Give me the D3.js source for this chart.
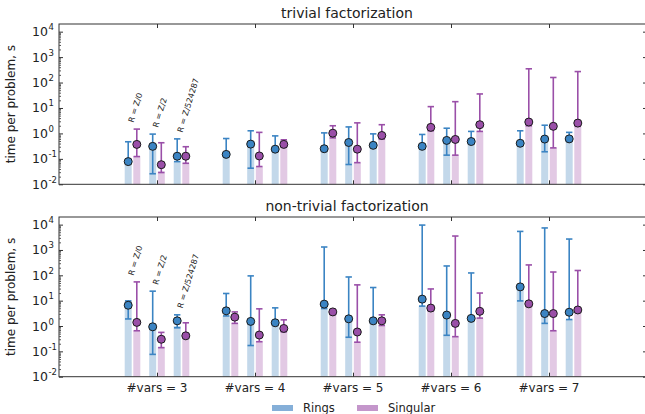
<!DOCTYPE html>
<html>
<head>
<meta charset="utf-8">
<script src="https://cdn.jsdelivr.net/npm/d3@7"></script>
<style>
  body { margin: 0; background: #fff; }
  text { font-family: "DejaVu Sans", sans-serif; fill: #222; }
</style>
</head>
<body>
<div id="chart"></div>
<script>
// categories
const groups = ["#vars = 3", "#vars = 4", "#vars = 5", "#vars = 6", "#vars = 7"];
const rings = ["R = Z/0", "R = Z/2", "R = Z/524287"];
const series = ["Rings", "Singular"];
const yTicks = [1e-2, 1e-1, 1e0, 1e1, 1e2, 1e3, 1e4];

// values per #vars, per ring: [bar, median, low, high]
const trivialRings = [
    [[0.085, 0.078, 0.07, 0.47], [0.32, 0.31, 0.026, 0.94], [0.08, 0.127, 0.078, 0.61]],
    [[0.15, 0.15, 0.14, 0.63], [0.4, 0.38, 0.043, 1.27], [0.28, 0.24, 0.23, 0.8]],
    [[0.25, 0.25, 0.24, 1.05], [0.45, 0.44, 0.06, 1.8], [0.36, 0.34, 0.33, 0.96]],
    [[0.33, 0.31, 0.3, 0.91], [0.55, 0.53, 0.14, 1.6], [0.5, 0.48, 0.47, 1.2]],
    [[0.42, 0.41, 0.4, 1.27], [0.6, 0.6, 0.19, 2.1], [0.62, 0.61, 0.6, 1.1]]
];
const trivialSingular = [
    [[0.13, 0.37, 0.123, 1.48], [0.032, 0.059, 0.029, 0.43], [0.07, 0.127, 0.067, 0.3]],
    [null, [0.05, 0.13, 0.05, 1.1], [0.55, 0.37, 0.3, 0.56]],
    [[0.67, 1.02, 0.67, 2.0], [0.07, 0.24, 0.071, 2.6], [0.6, 0.83, 0.6, 2.2]],
    [[1.3, 1.73, 1.27, 11.3], [0.14, 0.58, 0.14, 17.7], [1.2, 2.2, 1.2, 35.6]],
    [[2.0, 2.8, 2.0, 347], [0.27, 1.9, 0.27, 158], [1.9, 2.55, 1.9, 270]]
];
const nontrivialRings = [
    [[10, 6.6, 1.9, 9.8], [0.9, 0.93, 0.076, 23.7], [1.0, 1.6, 0.85, 2.76]],
    [[2.5, 3.97, 2.5, 19.2], [1.4, 1.52, 0.17, 95], [1.35, 1.34, 1.3, 5.2]],
    [[4.9, 7.3, 4.9, 1310], [1.7, 1.92, 0.36, 86], [1.6, 1.6, 1.55, 33]],
    [[6, 11.5, 6.1, 9600], [2.5, 2.7, 0.43, 234], [1.46, 2.0, 1.95, 124]],
    [[28, 35, 9.8, 5400], [3, 3.1, 1.27, 7400], [1.8, 3.5, 1.8, 2700]]
];
const nontrivialSingular = [
    [[0.65, 1.39, 0.65, 55], [0.15, 0.3, 0.14, 0.56], [0.4, 0.41, 0.4, 1.34]],
    [[1.3, 2.24, 1.27, 3.6], [0.25, 0.44, 0.24, 4.76], [0.6, 0.8, 0.59, 1.75]],
    [[3, 3.6, 2.9, 4.5], [0.23, 0.58, 0.23, 42], [1.05, 1.6, 1.05, 2.76]],
    [[4, 5.1, 4.0, 29], [0.38, 1.27, 0.38, 3550], [2, 3.8, 2.05, 20]],
    [[7, 7.5, 7, 257], [0.65, 3.1, 0.65, 135], [4.3, 4.3, 4.2, 155]]
];

const width = 645;
const height = 414;

const dark = { Rings: "#3b84c3", Singular: "#9a4fa8" };
const light = { Rings: "#c3d8ea", Singular: "#e2c9e4" };
const patch = { Rings: "#85afd8", Singular: "#c496cb" };

const svg = d3.select("#chart")
    .append("svg")
    .attr("width", width)
    .attr("height", height);

const x = d3.scaleLinear().domain([0, 6]).range([59, 647]);
const rBand = d3.scaleBand().domain(rings).range([-36.75, 36.75]);
const sBand = d3.scaleBand().domain(series).range([-8.6, 8.6]);
const barW = 7;

const panels = [
    { title: "trivial factorization", top: 24, bottom: 184.3,
      data: { Rings: trivialRings, Singular: trivialSingular }, xlabels: false },
    { title: "non-trivial factorization", top: 217, bottom: 376.7,
      data: { Rings: nontrivialRings, Singular: nontrivialSingular }, xlabels: true }
];

// minor ticks 2..9 of every decade
const minor = [];
for (let e = -2; e < 5; e++) {
    for (let m = 2; m < 10; m++) {
        const v = m * Math.pow(10, e);
        if (v < 2e4) minor.push(v);
    }
}

panels.forEach(p => {
    const y = d3.scaleLog().domain([1e-2, 2e4]).range([p.bottom, p.top]);
    const g = svg.append("g");

    // bars
    series.forEach(s => {
        p.data[s].forEach((grp, gi) => {
            grp.forEach((d, ri) => {
                if (!d) return;
                const cx = x(gi + 1) + rBand(rings[ri]) + rBand.bandwidth() / 2 + sBand(s) + sBand.bandwidth() / 2;
                g.append("rect")
                    .attr("x", cx - barW / 2)
                    .attr("y", y(d[0]))
                    .attr("width", barW)
                    .attr("height", p.bottom - y(d[0]))
                    .attr("fill", light[s]);
            });
        });
    });

    // whiskers and medians
    series.forEach(s => {
        p.data[s].forEach((grp, gi) => {
            grp.forEach((d, ri) => {
                if (!d) return;
                const cx = x(gi + 1) + rBand(rings[ri]) + rBand.bandwidth() / 2 + sBand(s) + sBand.bandwidth() / 2;
                g.append("line")
                    .attr("x1", cx).attr("x2", cx)
                    .attr("y1", y(d[2])).attr("y2", y(d[3]))
                    .attr("stroke", dark[s]).attr("stroke-width", 1.6);
                [d[2], d[3]].forEach(v => {
                    g.append("line")
                        .attr("x1", cx - 3.2).attr("x2", cx + 3.2)
                        .attr("y1", y(v)).attr("y2", y(v))
                        .attr("stroke", dark[s]).attr("stroke-width", 1.6);
                });
                g.append("circle")
                    .attr("cx", cx).attr("cy", y(d[1]))
                    .attr("r", 4)
                    .attr("fill", dark[s])
                    .attr("stroke", "#1a1a1a").attr("stroke-width", 1);
            });
        });
    });

    // rotated ring labels over the first group
    rings.forEach((r, ri) => {
        const hi = d3.max(series, s => p.data[s][0][ri] ? p.data[s][0][ri][3] : 0);
        const tx = x(1) + rBand(r) + rBand.bandwidth() / 2 + 1;
        const ty = y(hi) - 6;
        g.append("text")
            .attr("transform", `translate(${tx},${ty}) rotate(-73)`)
            .attr("font-size", 8)
            .text(r);
    });

    // frame
    g.append("rect")
        .attr("x", x(0)).attr("y", p.top)
        .attr("width", x(6) - x(0)).attr("height", p.bottom - p.top)
        .attr("fill", "none").attr("stroke", "#333").attr("stroke-width", 1);

    // y ticks, left and right, inward
    [[d3.axisLeft, x(0)], [d3.axisRight, x(6)]].forEach(([ax, px]) => {
        g.append("g").attr("transform", `translate(${px},0)`)
            .call(ax(y).tickValues(yTicks).tickSize(-4).tickFormat(""))
            .call(a => a.select(".domain").remove())
            .selectAll("line").attr("stroke", "#333");
        g.append("g").attr("transform", `translate(${px},0)`)
            .call(ax(y).tickValues(minor).tickSize(-2).tickFormat(""))
            .call(a => a.select(".domain").remove())
            .selectAll("line").attr("stroke", "#555");
    });

    // x ticks, top and bottom, inward
    g.append("g").attr("transform", `translate(0,${p.top})`)
        .call(d3.axisTop(x).tickValues([1, 2, 3, 4, 5]).tickSize(-4).tickFormat(""))
        .call(a => a.select(".domain").remove())
        .selectAll("line").attr("stroke", "#333");
    g.append("g").attr("transform", `translate(0,${p.bottom})`)
        .call(d3.axisBottom(x).tickValues([1, 2, 3, 4, 5]).tickSize(-4).tickFormat(""))
        .call(a => a.select(".domain").remove())
        .selectAll("line").attr("stroke", "#333");

    // y tick labels as 10^n
    yTicks.forEach(v => {
        const t = g.append("text")
            .attr("x", 48).attr("y", y(v) + 4.5)
            .attr("text-anchor", "end")
            .attr("font-size", 12.5)
            .text("10");
        g.append("text")
            .attr("x", 48.5).attr("y", y(v) - 1.5)
            .attr("font-size", 8.5)
            .text(Math.round(Math.log10(v)));
    });

    // y title
    g.append("text")
        .attr("transform", `translate(15,${(p.top + p.bottom) / 2}) rotate(-90)`)
        .attr("text-anchor", "middle")
        .attr("font-size", 12)
        .text("time per problem, s");

    // panel title
    g.append("text")
        .attr("x", 347).attr("y", p.top - 6)
        .attr("text-anchor", "middle")
        .attr("font-size", 14)
        .text(p.title);

    if (p.xlabels) {
        groups.forEach((lbl, gi) => {
            g.append("text")
                .attr("x", x(gi + 1)).attr("y", p.bottom + 15)
                .attr("text-anchor", "middle")
                .attr("font-size", 12)
                .text(lbl);
        });
    }
});

// legend
const legend = svg.append("g");
[["Rings", 272, 303], ["Singular", 357, 388]].forEach(([s, px, tx]) => {
    legend.append("rect")
        .attr("x", px).attr("y", 405)
        .attr("width", 21).attr("height", 6)
        .attr("fill", patch[s]);
    legend.append("text")
        .attr("x", tx).attr("y", 412)
        .attr("font-size", 11.5)
        .text(s);
});
</script>
</body>
</html>
